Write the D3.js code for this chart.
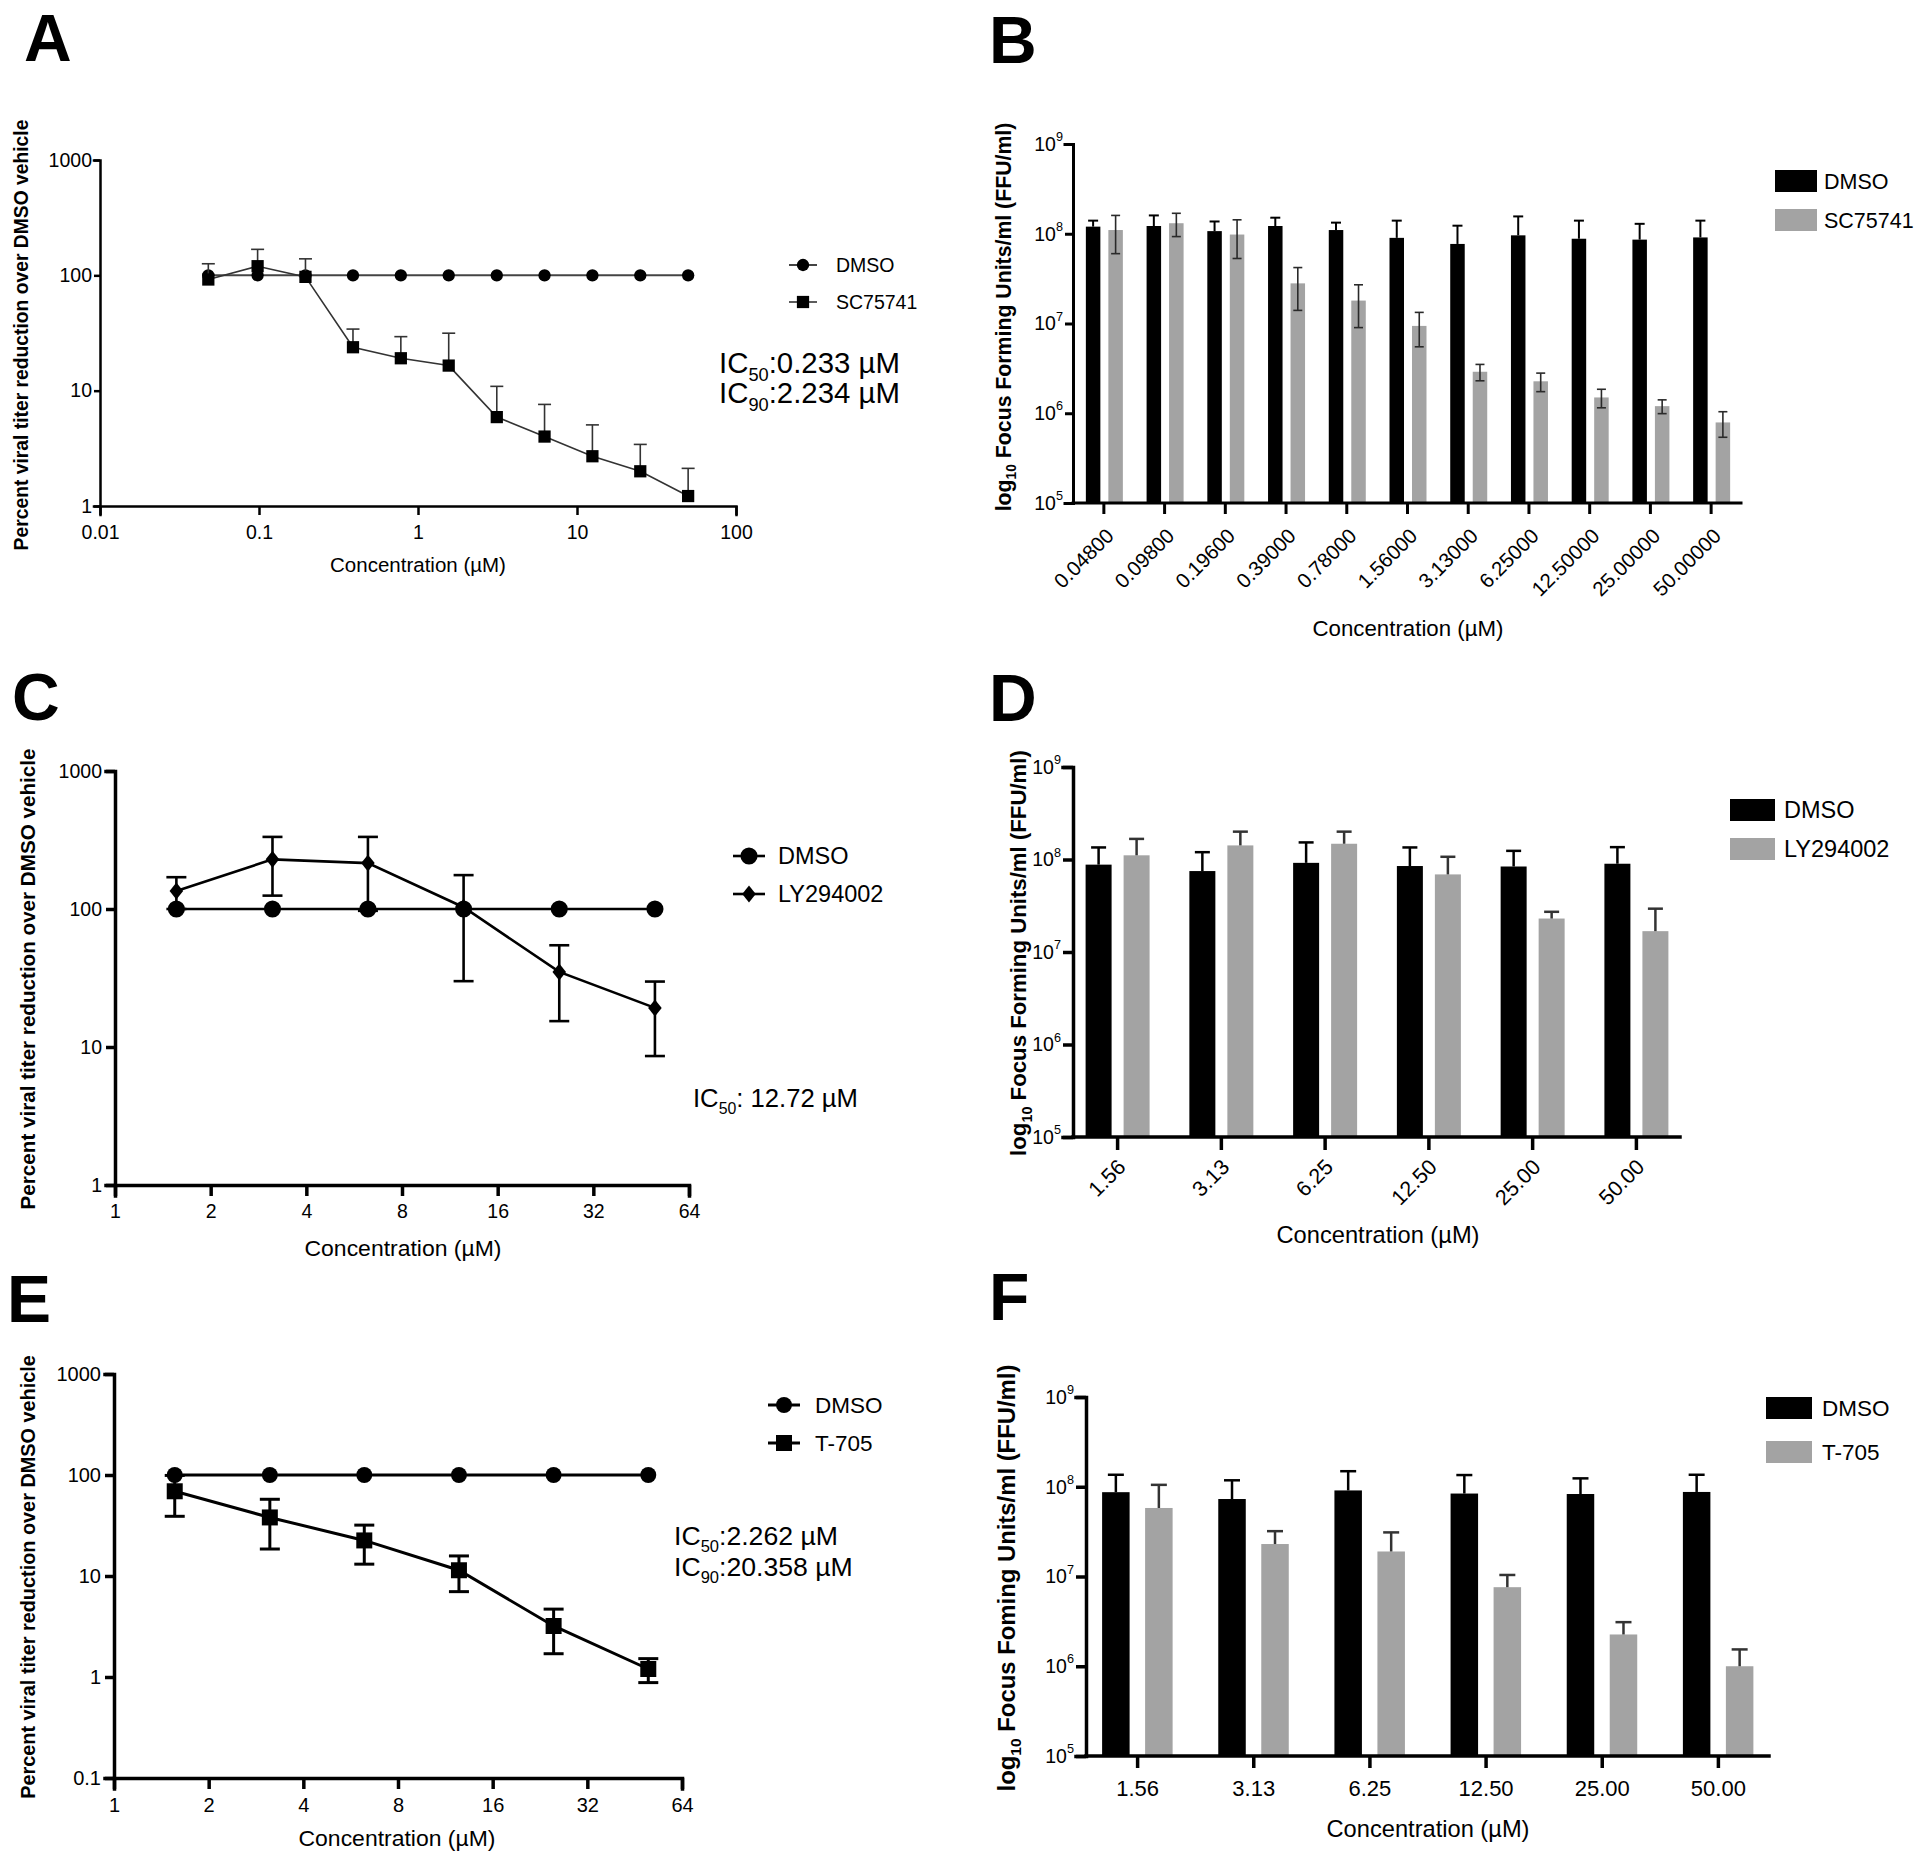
<!DOCTYPE html>
<html><head><meta charset="utf-8">
<script src="https://cdn.jsdelivr.net/npm/d3@7"></script>
<style>body{margin:0;background:#fff;} svg{display:block;}</style>
</head><body><svg id="c" width="1920" height="1861"></svg>
<script>
const FONT = '"Liberation Sans", Arial, Helvetica, sans-serif';

// ---------------- DATA ----------------
// Panel A (SC75741, percent titer)
const concA = [0.048, 0.098, 0.196, 0.39, 0.78, 1.56, 3.13, 6.25, 12.5, 25, 50];
const dmsoA = [100, 100, 100, 100, 100, 100, 100, 100, 100, 100, 100];
const sc75741A = [92, 120, 97, 23.8, 19.1, 16.5, 5.9, 4.0, 2.7, 2.0, 1.22];
const sc75741ASd = [34, 48, 42, 10.4, 10.3, 15, 5.0, 3.6, 2.35, 1.42, 0.9];
const xTicksA = [0.01, 0.1, 1, 10, 100];
const yTicksA = [1, 10, 100, 1000];

// Panel B (SC75741, FFU/ml)
const catsB = ["0.04800", "0.09800", "0.19600", "0.39000", "0.78000", "1.56000", "3.13000", "6.25000", "12.50000", "25.00000", "50.00000"];
const dmsoB = [1.2e8, 1.22e8, 1.07e8, 1.22e8, 1.1e8, 9.0e7, 7.7e7, 9.6e7, 8.8e7, 8.6e7, 9.1e7];
const dmsoBSd = [2.0e7, 3.8e7, 3.0e7, 2.9e7, 2.3e7, 5.0e7, 4.6e7, 6.0e7, 5.2e7, 4.3e7, 4.9e7];
const sc75741B = [1.1e8, 1.31e8, 9.8e7, 2.8e7, 1.8e7, 9.4e6, 2.9e6, 2.27e6, 1.5e6, 1.2e6, 7.9e5];
const sc75741BSd = [5.0e7, 3.8e7, 4.5e7, 1.4e7, 9.0e6, 3.9e6, 6.0e5, 5.3e5, 3.5e5, 2.1e5, 2.5e5];
const yTicksBar = [1e5, 1e6, 1e7, 1e8, 1e9];

// Panel C (LY294002, percent titer)
const concC = [1.56, 3.13, 6.25, 12.5, 25, 50];
const dmsoC = [100, 100, 100, 100, 100, 100];
const ly294002C = [135, 229, 215, 103, 35, 19.2];
const ly294002CSd = [35, 104, 118, 73, 19.6, 10.6];
const xTicksPow2 = [1, 2, 4, 8, 16, 32, 64];
const yTicksC = [1, 10, 100, 1000];

// Panel D (LY294002, FFU/ml)
const catsDF = ["1.56", "3.13", "6.25", "12.50", "25.00", "50.00"];
const dmsoD = [8.8e7, 7.5e7, 9.2e7, 8.5e7, 8.4e7, 9.0e7];
const dmsoDSd = [4.7e7, 4.5e7, 6.1e7, 5.0e7, 4.0e7, 4.6e7];
const ly294002D = [1.11e8, 1.42e8, 1.48e8, 6.9e7, 2.3e7, 1.68e7];
const ly294002DSd = [5.6e7, 5.8e7, 5.2e7, 3.8e7, 4.2e6, 1.26e7];

// Panel E (T-705, percent titer)
const concE = [1.56, 3.13, 6.25, 12.5, 25, 50];
const dmsoE = [100, 100, 100, 100, 100, 100];
const t705E = [69, 38, 22.5, 11.4, 3.2, 1.2];
const t705ESd = [30, 19.5, 9.4, 4.4, 1.5, 0.32];
const yTicksE = [0.1, 1, 10, 100, 1000];

// Panel F (T-705, FFU/ml)
const dmsoF = [8.7e7, 7.3e7, 9.1e7, 8.4e7, 8.3e7, 8.75e7];
const dmsoFSd = [4.9e7, 4.5e7, 5.8e7, 5.1e7, 4.1e7, 4.85e7];
const t705F = [5.8e7, 2.3e7, 1.9e7, 7.6e6, 2.26e6, 1.0e6];
const t705FSd = [4.7e7, 9.0e6, 1.2e7, 2.8e6, 8.4e5, 5.4e5];

// ---------------- DRAWING ----------------
const svg = d3.select("#c");
svg.append("rect").attr("width", 1920).attr("height", 1861).attr("fill", "#fff");

const GRAY = "#a3a3a3";

const diamond = {
  draw(ctx, size) {
    const h = Math.sqrt(size), w = h * 0.8;
    ctx.moveTo(0, -h); ctx.lineTo(w, 0); ctx.lineTo(0, h); ctx.lineTo(-w, 0); ctx.closePath();
  }
};

function placeText(build, o) {
  const t = svg.append("text").attr("font-family", FONT).attr("font-size", 20)
    .attr("font-weight", o.bold ? "bold" : "normal").attr("fill", "#000")
    .attr("text-anchor", o.anchor || "middle");
  build(t);
  let fs = o.fs || 20;
  if (o.target) { const w = t.node().getBBox().width; fs = 20 * o.target / w; }
  t.attr("font-size", fs);
  if (o.rotate) t.attr("transform", `translate(${o.cx + 0.36 * fs},${o.cy}) rotate(-90)`);
  else if (o.base !== undefined) t.attr("x", o.cx).attr("y", o.base);
  else t.attr("x", o.cx).attr("y", o.cy + 0.36 * fs);
  return fs;
}

function letter(ch, x, base) {
  svg.append("text").attr("x", x).attr("y", base).attr("font-family", FONT)
    .attr("font-weight", "bold").attr("font-size", 66).attr("fill", "#000").text(ch);
}

function yLabelPct(cx, cy, len) {
  placeText(t => t.text("Percent viral titer reduction over DMSO vehicle"), { cx, cy, target: len, rotate: true, bold: true });
}
function yLabelFFU(cx, cy, len, word) {
  placeText(t => {
    t.append("tspan").text("log");
    t.append("tspan").attr("font-size", "0.65em").attr("dy", "0.4em").text("10");
    t.append("tspan").attr("dy", "-0.26em").text(" Focus " + word + " Units/ml (FFU/ml)");
  }, { cx, cy, target: len, rotate: true, bold: true });
}
function xLabel(cx, cy, len) {
  placeText(t => t.text("Concentration (\u00b5M)"), { cx, cy, target: len });
}
function icText(x, base, sub, rest, fs) {
  const t = svg.append("text").attr("x", x).attr("y", base).attr("font-family", FONT)
    .attr("font-size", fs).attr("fill", "#000");
  t.append("tspan").text("IC");
  t.append("tspan").attr("font-size", "0.62em").attr("dy", "0.45em").text(sub);
  t.append("tspan").attr("dy", "-0.279em").text(rest);
  return t;
}
function fitIC(x, base, sub, rest, target) {
  const t = icText(x, base, sub, rest, 20);
  const w = t.node().getBBox().width;
  const fs = 20 * target / w;
  t.attr("font-size", fs);
  return fs;
}

function styleAxis(a, w, fs) {
  a.attr("font-family", FONT);
  a.select(".domain").attr("stroke", "#000").attr("stroke-width", w).attr("stroke-linecap", "square");
  a.selectAll(".tick line").attr("stroke", "#000").attr("stroke-width", w);
  a.selectAll(".tick text").attr("fill", "#000").attr("font-size", fs).attr("font-family", FONT);
}

function linePanel(p) {
  const g = svg.append("g");
  const { x, y } = p;
  const yb = y.range()[0], xl = x.range()[0];

  p.series.forEach(s => {
    const pts = d3.zip(p.conc, s.vals, s.sd || s.vals.map(() => 0));
    if (s.sd) {
      const eg = g.append("g").attr("stroke", s.errColor).attr("stroke-width", s.errW).attr("fill", "none");
      pts.forEach(([c, v, sd]) => {
        const cx = x(c);
        const top = y(v + sd);
        const bot = s.both ? y(Math.max(v - sd, 1e-6)) : y(v);
        eg.append("line").attr("x1", cx).attr("x2", cx).attr("y1", top).attr("y2", bot);
        eg.append("line").attr("x1", cx - s.cap / 2).attr("x2", cx + s.cap / 2).attr("y1", top).attr("y2", top);
        if (s.both) eg.append("line").attr("x1", cx - s.cap / 2).attr("x2", cx + s.cap / 2).attr("y1", bot).attr("y2", bot);
      });
    }
    g.append("path").datum(pts).attr("fill", "none").attr("stroke", s.lineColor).attr("stroke-width", s.lineW)
      .attr("d", d3.line().x(d => x(d[0])).y(d => y(d[1])));
    g.selectAll(null).data(pts).join("path")
      .attr("transform", d => `translate(${x(d[0])},${y(d[1])})`)
      .attr("d", d3.symbol(s.type, s.size)).attr("fill", "#000");
  });

  const ax = g.append("g").attr("transform", `translate(0,${yb})`)
    .call(d3.axisBottom(x).tickValues(p.xTicks).tickFormat(p.xFmt).tickSizeOuter(0).tickSize(p.tickX).tickPadding(p.padX));
  const ay = g.append("g").attr("transform", `translate(${xl},0)`)
    .call(d3.axisLeft(y).tickValues(p.yTicks).tickFormat(p.yFmt).tickSizeOuter(0).tickSize(p.tickY).tickPadding(p.padY));
  styleAxis(ax, p.axisW, p.tickFs);
  styleAxis(ay, p.axisW, p.tickFs);

  p.legend.forEach(L => {
    const s = p.series[L.s];
    const ly = L.y;
    g.append("line").attr("x1", p.legX - p.legHalf).attr("x2", p.legX + p.legHalf).attr("y1", ly).attr("y2", ly)
      .attr("stroke", s.lineColor).attr("stroke-width", s.lineW);
    g.append("path").attr("transform", `translate(${p.legX},${ly})`).attr("d", d3.symbol(s.type, s.size)).attr("fill", "#000");
    g.append("text").attr("x", p.legTextX).attr("y", ly + 0.36 * p.legFs).attr("font-family", FONT)
      .attr("font-size", p.legFs).attr("fill", "#000").text(L.label);
  });
}

function supTicks(a) {
  a.selectAll(".tick text").each(function (d) {
    const t = d3.select(this);
    const e = Math.round(Math.log10(d));
    t.text(null);
    t.append("tspan").text("10");
    t.append("tspan").attr("font-size", "0.65em").attr("dy", "-0.75em").text(e);
  });
}

function barPanel(p) {
  const g = svg.append("g");
  const y = d3.scaleLog().domain([1e5, 1e9]).range([p.yBot, p.yTop]);
  const x = d3.scalePoint().domain(p.cats).range([p.x0, p.x1]).padding(p.pad);
  const base = p.yBot;

  const drawBars = (vals, sd, off, w, fill, errColor, errW, cap, both) => {
    g.selectAll(null).data(d3.zip(p.cats, vals)).join("rect")
      .attr("x", d => x(d[0]) + off).attr("width", w)
      .attr("y", d => y(d[1])).attr("height", d => base - y(d[1])).attr("fill", fill);
    const eg = g.append("g").attr("stroke", errColor).attr("stroke-width", errW);
    d3.zip(p.cats, vals, sd).forEach(([c, v, s]) => {
      const cx = x(c) + off + w / 2;
      const top = y(v + s), bot = both ? y(v - s) : y(v);
      eg.append("line").attr("x1", cx).attr("x2", cx).attr("y1", top).attr("y2", bot);
      eg.append("line").attr("x1", cx - cap / 2).attr("x2", cx + cap / 2).attr("y1", top).attr("y2", top);
      if (both) eg.append("line").attr("x1", cx - cap / 2).attr("x2", cx + cap / 2).attr("y1", bot).attr("y2", bot);
    });
  };
  drawBars(p.s1, p.s1sd, p.off1, p.bw, "#000", "#000", p.errW, p.cap, false);
  drawBars(p.s2, p.s2sd, p.off2, p.bw2 || p.bw, GRAY, p.err2Color, p.err2W || p.errW, p.cap2 || p.cap, p.both);

  const ax = g.append("g").attr("transform", `translate(0,${base})`)
    .call(d3.axisBottom(x).tickSizeOuter(0).tickSize(p.tickX).tickPadding(p.padX));
  const ay = g.append("g").attr("transform", `translate(${p.x0},0)`)
    .call(d3.axisLeft(y).tickValues(yTicksBar).tickSizeOuter(0).tickSize(p.tickY).tickPadding(p.padY));
  styleAxis(ax, p.axisW, p.xFs);
  styleAxis(ay, p.axisW, p.yFs);
  ax.select(".domain").attr("d", `M${p.x0},0H${p.x1}`);
  supTicks(ay);
  if (p.rotate) {
    ax.selectAll(".tick text").attr("x", 0).attr("y", 0).attr("dy", "0.35em")
      .attr("text-anchor", "end").attr("transform", `translate(${p.rotDx},${p.rotDy}) rotate(-45)`);
  }

  p.legend.forEach(L => {
    g.append("rect").attr("x", p.legX).attr("y", L.y).attr("width", p.legW).attr("height", p.legH).attr("fill", L.fill);
    g.append("text").attr("x", p.legTextX).attr("y", L.y + p.legH / 2 + 0.36 * p.legFs).attr("font-family", FONT)
      .attr("font-size", p.legFs).attr("fill", "#000").text(L.label);
  });
}

const fmtPlain = d => String(d);

// ---------- Panel A ----------
letter("A", 24, 61);
linePanel({
  x: d3.scaleLog().domain([0.01, 100]).range([100, 736]),
  y: d3.scaleLog().domain([1, 1000]).range([506, 160]),
  conc: concA,
  xTicks: xTicksA, yTicks: yTicksA, xFmt: fmtPlain, yFmt: fmtPlain,
  tickX: 9, tickY: 6, padX: 10, padY: 2, axisW: 2.5, tickFs: 19.5,
  series: [
    { vals: dmsoA, type: d3.symbolCircle, size: 120, lineColor: "#444", lineW: 2 },
    { vals: sc75741A, sd: sc75741ASd, both: false, type: d3.symbolSquare, size: 150, lineColor: "#333", lineW: 1.6, errColor: "#333", errW: 1.6, cap: 13 }
  ],
  legX: 803, legHalf: 14, legTextX: 836, legFs: 19.5,
  legend: [{ s: 0, y: 265, label: "DMSO" }, { s: 1, y: 302, label: "SC75741" }]
});
{
  const fs = fitIC(719, 373, "50", ":0.233 \u00b5M", 181);
  icText(719, 403, "90", ":2.234 \u00b5M", fs);
}
yLabelPct(21.5, 335, 431);
xLabel(418, 565, 176);

// ---------- Panel B ----------
letter("B", 989, 63);
barPanel({
  cats: catsB, s1: dmsoB, s1sd: dmsoBSd, s2: sc75741B, s2sd: sc75741BSd,
  x0: 1073, x1: 1741, pad: 0.5, yTop: 144, yBot: 503,
  off1: -17.5, off2: 5, bw: 14.5, errW: 2, cap: 10, err2Color: "#2a2a2a", err2W: 1.6, cap2: 9, both: true,
  axisW: 3, tickX: 11, tickY: 8, padX: 4, padY: 2, xFs: 20.5, yFs: 19.5,
  rotate: true, rotDx: 6, rotDy: 29,
  legX: 1775, legW: 42, legH: 22, legTextX: 1824, legFs: 21.5,
  legend: [{ y: 170, fill: "#000", label: "DMSO" }, { y: 209, fill: GRAY, label: "SC75741" }]
});
yLabelFFU(1003, 317, 389, "Forming");
xLabel(1408, 628, 191);

// ---------- Panel C ----------
letter("C", 12, 720);
linePanel({
  x: d3.scaleLog().base(2).domain([1, 64]).range([115, 689]),
  y: d3.scaleLog().domain([1, 1000]).range([1185, 771]),
  conc: concC,
  xTicks: xTicksPow2, yTicks: yTicksC, xFmt: fmtPlain, yFmt: fmtPlain,
  tickX: 11, tickY: 9, padX: 8, padY: 4, axisW: 3.5, tickFs: 19.5,
  series: [
    { vals: ly294002C, sd: ly294002CSd, both: true, type: diamond, size: 72, lineColor: "#000", lineW: 2.6, errColor: "#000", errW: 2.6, cap: 20 },
    { vals: dmsoC, type: d3.symbolCircle, size: 230, lineColor: "#000", lineW: 2.6 }
  ],
  legX: 749, legHalf: 16, legTextX: 778, legFs: 23.5,
  legend: [{ s: 1, y: 856, label: "DMSO" }, { s: 0, y: 894, label: "LY294002" }]
});
fitIC(693, 1107, "50", ": 12.72 \u00b5M", 165);
yLabelPct(28, 979, 461);
xLabel(403, 1248, 197);

// ---------- Panel D ----------
letter("D", 989, 721);
barPanel({
  cats: catsDF, s1: dmsoD, s1sd: dmsoDSd, s2: ly294002D, s2sd: ly294002DSd,
  x0: 1073, x1: 1680, pad: 0.425, yTop: 767, yBot: 1137,
  off1: -31.5, off2: 6.5, bw: 26, errW: 2.5, cap: 15, err2Color: "#333", both: false,
  axisW: 3.5, tickX: 13, tickY: 10, padX: 4, padY: 2, xFs: 21.5, yFs: 19.5,
  rotate: true, rotDx: 4, rotDy: 26,
  legX: 1730, legW: 45, legH: 22, legTextX: 1784, legFs: 23.5,
  legend: [{ y: 799, fill: "#000", label: "DMSO" }, { y: 838, fill: GRAY, label: "LY294002" }]
});
yLabelFFU(1018.5, 953, 406, "Forming");
xLabel(1378, 1234, 203);

// ---------- Panel E ----------
letter("E", 7, 1322);
linePanel({
  x: d3.scaleLog().base(2).domain([1, 64]).range([114, 682]),
  y: d3.scaleLog().domain([0.1, 1000]).range([1778, 1374]),
  conc: concE,
  xTicks: xTicksPow2, yTicks: yTicksE, xFmt: fmtPlain, yFmt: fmtPlain,
  tickX: 11, tickY: 9, padX: 9, padY: 4, axisW: 3.5, tickFs: 20,
  series: [
    { vals: dmsoE, type: d3.symbolCircle, size: 200, lineColor: "#000", lineW: 3 },
    { vals: t705E, sd: t705ESd, both: true, type: d3.symbolSquare, size: 256, lineColor: "#000", lineW: 3, errColor: "#000", errW: 3, cap: 20 }
  ],
  legX: 784, legHalf: 16, legTextX: 815, legFs: 22.5,
  legend: [{ s: 0, y: 1405, label: "DMSO" }, { s: 1, y: 1443, label: "T-705" }]
});
{
  const fs = fitIC(674, 1545, "50", ":2.262 \u00b5M", 164);
  icText(674, 1576, "90", ":20.358 \u00b5M", fs);
}
yLabelPct(28, 1577, 444);
xLabel(397, 1838, 197);

// ---------- Panel F ----------
letter("F", 989, 1320);
barPanel({
  cats: catsDF, s1: dmsoF, s1sd: dmsoFSd, s2: t705F, s2sd: t705FSd,
  x0: 1086, x1: 1769, pad: 0.44, yTop: 1397, yBot: 1756,
  off1: -35, off2: 8, bw: 27.5, errW: 2.5, cap: 16, err2Color: "#333", both: false,
  axisW: 3.5, tickX: 12, tickY: 10, padX: 12, padY: 2, xFs: 22, yFs: 19.5,
  rotate: false,
  legX: 1766, legW: 46, legH: 22, legTextX: 1822, legFs: 22.5,
  legend: [{ y: 1397, fill: "#000", label: "DMSO" }, { y: 1441, fill: GRAY, label: "T-705" }]
});
yLabelFFU(1006, 1578, 427, "Foming");
xLabel(1428, 1828, 203);
</script>
</body></html>
